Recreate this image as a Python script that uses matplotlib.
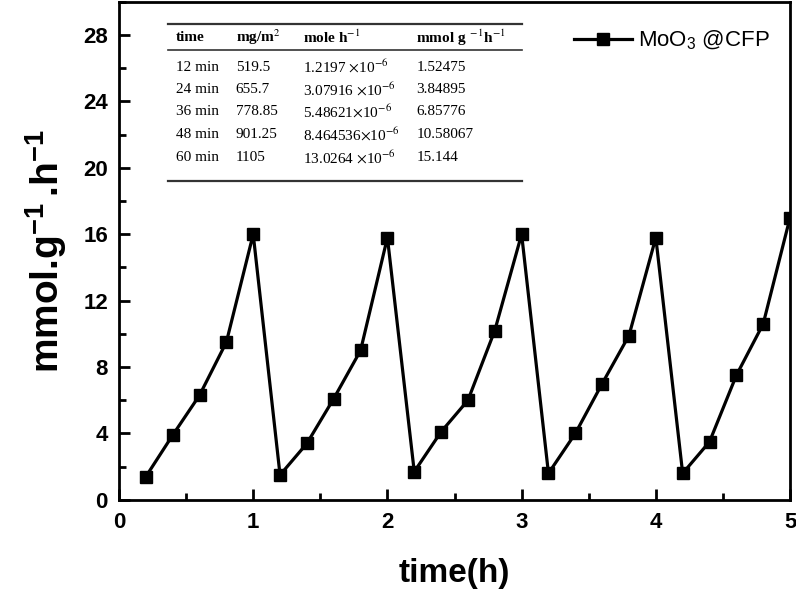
import matplotlib
matplotlib.use("Agg")
import matplotlib.pyplot as plt
from matplotlib.ticker import MultipleLocator

plt.rcParams["font.family"] = ["Liberation Sans", "DejaVu Sans"]
plt.rcParams["mathtext.fontset"] = "custom"
plt.rcParams["mathtext.rm"] = "Liberation Sans"
plt.rcParams["mathtext.bf"] = "Liberation Sans:bold"

# data
time_h = [0.2, 0.4, 0.6, 0.8, 1.0, 1.2, 1.4, 1.6, 1.8, 2.0,
          2.2, 2.4, 2.6, 2.8, 3.0, 3.2, 3.4, 3.6, 3.8, 4.0,
          4.2, 4.4, 4.6, 4.8, 5.0]
rate = [1.4, 3.9, 6.3, 9.5, 16.0, 1.5, 3.4, 6.1, 9.0, 15.8,
        1.7, 4.1, 6.0, 10.2, 16.0, 1.6, 4.0, 7.0, 9.9, 15.8,
        1.6, 3.5, 7.5, 10.6, 17.0]

table_header = ["time", "mg/m$^2$", "mole h$^{-1}$", "mmol g$^{\\ -1}$h$^{-1}$"]
table_time = ["12 min", "24 min", "36 min", "48 min", "60 min"]
table_mass = ["519.5", "655.7", "778.85", "901.25", "1105"]
table_mole = ["1.2197 $\\times$10$^{-6}$", "3.07916 $\\times$10$^{-6}$",
              "5.48621$\\times$10$^{-6}$", "8.464536$\\times$10$^{-6}$",
              "13.0264 $\\times$10$^{-6}$"]
table_mmol = ["1.52475", "3.84895", "6.85776", "10.58067", "15.144"]

fig = plt.figure(figsize=(7.96, 5.93), dpi=100)
ax = fig.add_axes([0.1495, 0.157, 0.843, 0.84])

ax.plot(time_h, rate, color="black", lw=2.3, marker="s", ms=8,
        label="MoO$_3$ @CFP")

ax.set_xlim(0, 5)
ax.set_ylim(0, 30)
ax.xaxis.set_major_locator(MultipleLocator(1))
ax.xaxis.set_minor_locator(MultipleLocator(0.5))
ax.yaxis.set_major_locator(MultipleLocator(4))
ax.yaxis.set_minor_locator(MultipleLocator(2))
ax.tick_params(which="both", direction="in", width=2, labelsize=16)
ax.tick_params(which="major", length=8)
ax.tick_params(which="minor", length=5)
ax.tick_params(axis="x", pad=9)
ax.tick_params(axis="y", pad=8)
for lab in ax.get_xticklabels() + ax.get_yticklabels():
    lab.set_fontweight("bold")
for s in ax.spines.values():
    s.set_linewidth(2)

ax.set_xlabel("time(h)", fontsize=24, fontweight="bold", labelpad=18)
ax.set_ylabel("mmol.g$^{\\mathbf{-1}}\\,$.h$^{\\mathbf{-1}}$", fontsize=28,
              fontweight="bold", labelpad=10)

ax.legend(loc="upper right", frameon=False, fontsize=16, handlelength=2.6,
          handletextpad=0.3, bbox_to_anchor=(1.0, 0.985))

# inset table
col_x = [0.085, 0.174, 0.274, 0.443]
row_y = [0.869, 0.823, 0.779, 0.733, 0.687]
tkw = dict(transform=ax.transAxes, fontsize=11, va="center", ha="left",
           family=["Liberation Serif", "DejaVu Serif"], math_fontfamily="stix")
for x, h in zip(col_x, table_header):
    ax.text(x, 0.928, h, fontweight="bold", **tkw)
for i, y in enumerate(row_y):
    row = [table_time[i], table_mass[i], table_mole[i], table_mmol[i]]
    for x, v in zip(col_x, row):
        ax.text(x, y, v, **tkw)
for y, lw in [(0.956, 1.6), (0.904, 1.2), (0.641, 1.6)]:
    ax.plot([0.073, 0.601], [y, y], color="#333333", lw=lw,
            transform=ax.transAxes)

fig.savefig("out.png", dpi=100)
